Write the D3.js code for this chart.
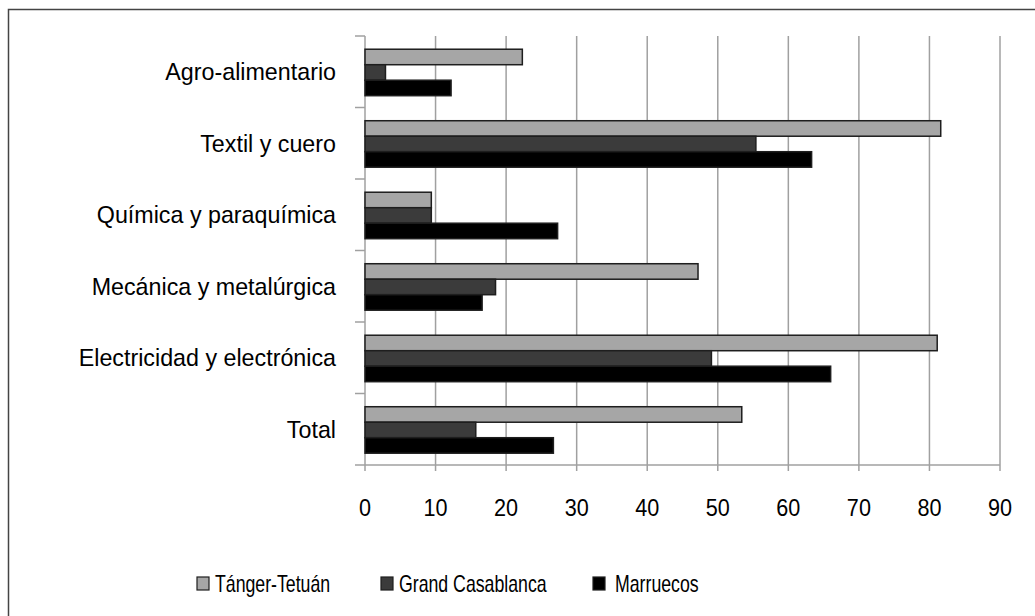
<!DOCTYPE html>
<html>
<head>
<meta charset="utf-8">
<script src="https://cdn.jsdelivr.net/npm/d3@7"></script>
<style>
  body { margin: 0; background: #fff; }
  text { font-family: "Liberation Sans", Arial, sans-serif; fill: #000; }
</style>
</head>
<body>
<script>
// categories top to bottom
var categories = ["Agro-alimentario", "Textil y cuero", "Química y paraquímica",
  "Mecánica y metalúrgica", "Electricidad y electrónica", "Total"];
var seriesNames = ["Tánger-Tetuán", "Grand Casablanca", "Marruecos"];
var tangerTetuan = [22.3, 81.6, 9.4, 47.2, 81.1, 53.4];
var grandCasablanca = [2.9, 55.4, 9.4, 18.5, 49.1, 15.7];
var marruecos = [12.2, 63.3, 27.3, 16.6, 66.0, 26.7];
var xTicks = [0, 10, 20, 30, 40, 50, 60, 70, 80, 90];

var colors = ["#a6a6a6", "#3b3b3b", "#000000"];
var values = [tangerTetuan, grandCasablanca, marruecos];

var W = 1035, H = 616;
var svg = d3.select("body").append("svg")
  .attr("width", W).attr("height", H);

// outer frame (runs off right and bottom)
svg.append("rect")
  .attr("x", 8.5).attr("y", 9.5)
  .attr("width", W + 10).attr("height", H + 10)
  .attr("fill", "none").attr("stroke", "#444").attr("stroke-width", 1.5);

var x = d3.scaleLinear().domain([0, 90]).range([365, 1000]);
var y = d3.scaleBand().domain(categories).range([36, 465]);
var y1 = d3.scaleBand().domain(seriesNames)
  .range([y.bandwidth() * 0.185, y.bandwidth() * 0.835]);

// gridlines
svg.append("g").selectAll("line")
  .data(xTicks.slice(1))
  .join("line")
  .attr("x1", d => x(d)).attr("x2", d => x(d))
  .attr("y1", 36).attr("y2", 471)
  .attr("stroke", "#a0a0a0").attr("stroke-width", 1.5);

// left axis line + ticks at band boundaries
var bounds = categories.map(c => y(c)).concat([465]);
svg.append("line")
  .attr("x1", x(0)).attr("x2", x(0)).attr("y1", 36).attr("y2", 471)
  .attr("stroke", "#a0a0a0").attr("stroke-width", 1.5);
svg.append("g").selectAll("line")
  .data(bounds)
  .join("line")
  .attr("x1", x(0) - 10).attr("x2", x(0))
  .attr("y1", d => d).attr("y2", d => d)
  .attr("stroke", "#a0a0a0").attr("stroke-width", 1.5);
// bottom axis line
svg.append("line")
  .attr("x1", x(0)).attr("x2", x(90)).attr("y1", 465).attr("y2", 465)
  .attr("stroke", "#a0a0a0").attr("stroke-width", 1.5);

// bars
var rows = [];
categories.forEach(function(c, i) {
  seriesNames.forEach(function(s, j) {
    rows.push({cat: c, series: s, value: values[j][i], color: colors[j]});
  });
});
svg.append("g").selectAll("rect")
  .data(rows)
  .join("rect")
  .attr("x", x(0))
  .attr("y", d => y(d.cat) + y1(d.series))
  .attr("width", d => x(d.value) - x(0))
  .attr("height", y1.bandwidth())
  .attr("fill", d => d.color)
  .attr("stroke", "#1e1e1e").attr("stroke-width", 1.5);

// category labels (source font is a narrow sans, so squeeze a little)
svg.append("g").selectAll("text")
  .data(categories)
  .join("text")
  .attr("transform", d => "translate(336," + (y(d) + y.bandwidth() / 2) + ") scale(0.97,1)")
  .attr("dy", "0.35em")
  .attr("text-anchor", "end")
  .style("font-size", "24px")
  .text(d => d);

// x tick labels
svg.append("g").selectAll("text")
  .data(xTicks)
  .join("text")
  .attr("transform", d => "translate(" + x(d) + ",508) scale(0.9,1)")
  .attr("dy", "0.35em")
  .attr("text-anchor", "middle")
  .style("font-size", "24px")
  .text(d => d);

// legend
var legendX = [197, 381, 593];
var legend = svg.append("g").selectAll("g")
  .data(seriesNames)
  .join("g")
  .attr("transform", (d, i) => "translate(" + legendX[i] + ",577)");
legend.append("rect")
  .attr("width", 12).attr("height", 13)
  .attr("fill", (d, i) => colors[i])
  .attr("stroke", "#1e1e1e").attr("stroke-width", 1.2);
legend.append("text")
  .attr("transform", (d, i) => "translate(" + (i === 2 ? 22 : 18) + ",7) scale(0.77,1)")
  .attr("dy", "0.35em")
  .style("font-size", "23px")
  .text(d => d);
</script>
</body>
</html>
